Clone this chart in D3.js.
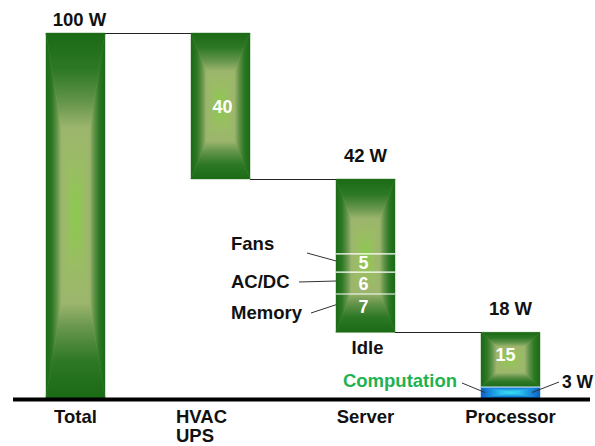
<!DOCTYPE html>
<html>
<head>
<meta charset="utf-8">
<script src="https://cdn.jsdelivr.net/npm/d3@7"></script>
<style>
  html, body { margin: 0; padding: 0; background: #fff; }
  svg { display: block; font-family: "Liberation Sans", Arial, sans-serif; font-weight: bold; }
</style>
</head>
<body>
<svg id="chart" width="595" height="446"></svg>
<script>
// Power flow from the wall to useful computation (watts)
const categories = ["Total", "HVAC\nUPS", "Server", "Processor"];
const consumed = [100, 40, 42, 18];           // length of each waterfall bar
const topLabels = ["100 W", null, "42 W", "18 W"];
const innerLabels = [null, "40", null, null];

// Breakdown of the server bar, top to bottom
const serverParts = ["Idle", "Fans", "AC/DC", "Memory", "Idle"];
const serverValues = [20.5, 5, 6, 7, 3.5];
const serverShown = [false, true, true, true, false];

// Breakdown of the processor bar, top to bottom
const processorParts = ["15", "Computation"];
const processorValues = [15, 3];

const FS = 18.5;
const svg = d3.select("#chart");
const defs = svg.append("defs");

const x = d3.scaleBand().domain(categories).range([3, 583]).paddingInner(0.593).paddingOuter(0.2965);
const y = d3.scaleLinear().domain([0, 100]).range([398, 33]);

// waterfall extents: each bar starts where the previous one ended
let level = 100;
const bars = categories.map((c, i) => {
  let top, bottom;
  if (i === 0) { top = consumed[0]; bottom = 0; }
  else { top = level; bottom = level - consumed[i]; level = bottom; }
  return { cat: c, top, bottom, i };
});

const greenStops = [
  [0, "#1b6a15"], [0.2, "#2d7824"], [0.38, "#65954b"],
  [0.52, "#9cb56d"], [0.74, "#9abd64"], [1, "#8acb4c"]
];
const blueStops = [
  [0, "#0a62c4"], [0.35, "#1a90e0"], [0.7, "#2cc4ec"], [1, "#3adcf0"]
];

let gid = 0;
function grad(x1, y1, x2, y2, stops) {
  const id = "g" + (gid++);
  const lg = defs.append("linearGradient").attr("id", id)
    .attr("gradientUnits", "userSpaceOnUse")
    .attr("x1", x1).attr("y1", y1).attr("x2", x2).attr("y2", y2);
  stops.forEach(s => lg.append("stop").attr("offset", s[0]).attr("stop-color", s[1]));
  return "url(#" + id + ")";
}

// Rectangle filled with a centre-out "pillow" gradient
function pillow(g, x0, y0, w, h, stops) {
  const cx = x0 + w / 2, cy = y0 + h / 2;
  g.append("rect").attr("x", x0).attr("y", y0).attr("width", w).attr("height", h)
    .attr("fill", stops[Math.floor(stops.length / 2)][1]);
  const tris = [
    { p: [[x0, y0], [x0 + w, y0], [cx, cy]], f: grad(cx, y0, cx, cy, stops) },
    { p: [[x0, y0 + h], [x0 + w, y0 + h], [cx, cy]], f: grad(cx, y0 + h, cx, cy, stops) },
    { p: [[x0, y0], [x0, y0 + h], [cx, cy]], f: grad(x0, cy, cx, cy, stops) },
    { p: [[x0 + w, y0], [x0 + w, y0 + h], [cx, cy]], f: grad(x0 + w, cy, cx, cy, stops) }
  ];
  tris.forEach(t => g.append("polygon")
    .attr("points", t.p.map(d => d.join(",")).join(" "))
    .attr("fill", t.f).attr("stroke", t.f).attr("stroke-width", 0.4));
}

const gBars = svg.append("g");
const bw = x.bandwidth();

// connector lines between successive bars
for (let i = 0; i < bars.length - 1; i++) {
  const lv = bars[i + 1].top;
  const yy = Math.round(y(lv)) + 0.5;
  svg.append("line")
    .attr("x1", x(bars[i].cat) + bw).attr("x2", x(bars[i + 1].cat))
    .attr("y1", yy).attr("y2", yy)
    .attr("stroke", "#222").attr("stroke-width", 1.2);
}

bars.forEach(b => {
  const x0 = x(b.cat);
  if (b.cat === "Processor") {
    let acc = b.top;
    processorValues.forEach((v, k) => {
      const yt = y(acc), yb = y(acc - v);
      pillow(gBars, x0, yt, bw, yb - yt, k === 0 ? greenStops : blueStops);
      acc -= v;
    });
  } else {
    pillow(gBars, x0, y(b.top), bw, y(b.bottom) - y(b.top), greenStops);
  }
});

// server breakdown dividers and values
const sx = x("Server");
let sAcc = bars[2].top;
const serverSeg = serverParts.map((p, k) => {
  const seg = { name: p, v: serverValues[k], top: sAcc, bottom: sAcc - serverValues[k], shown: serverShown[k] };
  sAcc -= serverValues[k];
  return seg;
});
serverSeg.filter(s => s.shown).forEach(s => {
  svg.append("line")
    .attr("x1", sx).attr("x2", sx + bw)
    .attr("y1", y(s.top)).attr("y2", y(s.top))
    .attr("stroke", "#ffffff").attr("stroke-width", 1.2);
  svg.append("text")
    .attr("x", sx + bw / 2 - 2).attr("y", y((s.top + s.bottom) / 2) + 6.5)
    .attr("text-anchor", "middle").attr("fill", "#fff").attr("font-size", 18)
    .text(s.v);
});

// processor top/bottom divider
const pTop = bars[3].top;
svg.append("line")
  .attr("x1", x("Processor")).attr("x2", x("Processor") + bw)
  .attr("y1", y(pTop - processorValues[0])).attr("y2", y(pTop - processorValues[0]))
  .attr("stroke", "#e8f4ff").attr("stroke-width", 1);

// labels above bars
bars.forEach((b, i) => {
  if (!topLabels[i]) return;
  svg.append("text")
    .attr("x", x(b.cat) + bw / 2 + (i === 0 ? 4 : 0))
    .attr("y", Math.max(26, y(b.top) - 17))
    .attr("text-anchor", "middle").attr("font-size", FS).attr("fill", "#111")
    .text(topLabels[i]);
});
// labels inside bars
bars.forEach((b, i) => {
  if (!innerLabels[i]) return;
  svg.append("text")
    .attr("x", x(b.cat) + bw / 2 + 2).attr("y", y((b.top + b.bottom) / 2) + 6.5)
    .attr("text-anchor", "middle").attr("font-size", 18).attr("fill", "#fff")
    .text(innerLabels[i]);
});
svg.append("text")
  .attr("x", x("Processor") + bw / 2 - 5)
  .attr("y", y(pTop - processorValues[0] / 2) + 1)
  .attr("text-anchor", "middle").attr("font-size", 18).attr("fill", "#fff")
  .text(processorParts[0]);

// annotations left of the server bar
const annLayout = { Fans: { dy: -13, lx: 307, ly: 253 }, "AC/DC": { dy: 4.5, lx: 299, ly: 282 }, Memory: { dy: 12.5, lx: 311, ly: 313 } };
serverSeg.filter(s => s.shown).forEach(s => {
  const L = annLayout[s.name];
  const mid = y((s.top + s.bottom) / 2);
  svg.append("text").attr("x", 231).attr("y", mid + L.dy)
    .attr("font-size", FS).attr("fill", "#111").text(s.name);
  svg.append("line").attr("x1", L.lx).attr("y1", L.ly).attr("x2", sx).attr("y2", mid - 2)
    .attr("stroke", "#333").attr("stroke-width", 1);
});
svg.append("text").attr("x", sx + bw / 2 + 2).attr("y", y(bars[2].bottom) + 22)
  .attr("text-anchor", "middle").attr("font-size", FS).attr("fill", "#111").text("Idle");

// computation annotations
const px = x("Processor");
const compMid = y(processorValues[1] / 2);
svg.append("text").attr("x", 457).attr("y", 387)
  .attr("text-anchor", "end").attr("font-size", FS).attr("fill", "#1fb350")
  .text(processorParts[1]);
svg.append("line").attr("x1", 462).attr("y1", 383).attr("x2", px + 4).attr("y2", compMid)
  .attr("stroke", "#333").attr("stroke-width", 1);
svg.append("text").attr("x", 562).attr("y", 388)
  .attr("font-size", 17.5).attr("fill", "#111").text(processorValues[1] + " W");
svg.append("line").attr("x1", 559).attr("y1", 382).attr("x2", px + bw - 8).attr("y2", compMid)
  .attr("stroke", "#333").attr("stroke-width", 1);

// baseline
svg.append("line").attr("x1", 13).attr("x2", 590).attr("y1", 399.5).attr("y2", 399.5)
  .attr("stroke", "#000").attr("stroke-width", 4);

// category labels under the axis
categories.forEach(c => {
  const lines = c.split("\n");
  const t = svg.append("text").attr("font-size", FS).attr("fill", "#111");
  lines.forEach((ln, k) => t.append("tspan").attr("y", 423 + k * 19).text(ln));
  const w = t.node().getBBox().width;
  t.selectAll("tspan").attr("x", x(c) + bw / 2 - w / 2);
});
</script>
</body>
</html>
